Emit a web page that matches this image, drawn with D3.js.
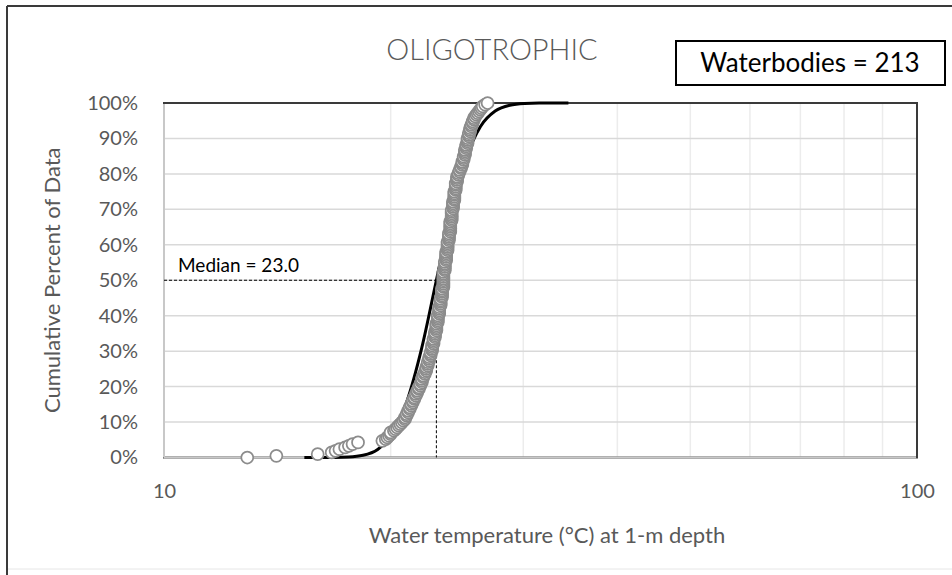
<!DOCTYPE html>
<html>
<head>
<meta charset="utf-8">
<script src="https://cdn.jsdelivr.net/npm/d3@7"></script>
<style>
  html, body { margin: 0; padding: 0; background: #fff; }
  svg { display: block; }
</style>
</head>
<body>
<svg id="chart" width="952" height="575"></svg>
<script>
// ---- chart data ----
const chartTitle = "OLIGOTROPHIC";
const countLabel = "Waterbodies = 213";
const medianValue = 23.0;
const medianLabel = "Median = 23.0";
const xAxisTitle = "Water temperature (°C) at 1-m depth";
const yAxisTitle = "Cumulative Percent of Data";
const xTickValues = [10, 100];
const xGridValues = [20, 30, 40, 50, 60, 70, 80, 90];
const yTickValues = [0, 0.1, 0.2, 0.3, 0.4, 0.5, 0.6, 0.7, 0.8, 0.9, 1.0];

// sorted surface temperatures of the 213 waterbodies (°C)
const observedTemps = [
  12.9, 14.1, 16.0, 16.7, 16.9, 17.1, 17.4, 17.6, 17.8, 18.1,
  19.5, 19.7, 19.8, 19.9, 20.0, 20.0, 20.2, 20.3, 20.4, 20.5, 20.6, 20.7, 20.8,
  20.9, 20.9, 21.0, 21.0, 21.1,
  21.1, 21.2, 21.2, 21.3, 21.3, 21.4,
  21.4, 21.5, 21.5, 21.6, 21.6, 21.7, 21.7, 21.8, 21.8,
  21.9, 21.9, 22.0, 22.0, 22.0, 22.1, 22.1, 22.2, 22.2, 22.3, 22.3,
  22.3, 22.4, 22.4, 22.4, 22.5, 22.5, 22.5, 22.6, 22.6, 22.6, 22.7,
  22.7, 22.7, 22.7, 22.8, 22.8, 22.8, 22.8, 22.9, 22.9, 22.9, 22.9, 23.0, 23.0, 23.0,
  23.0, 23.0, 23.1, 23.1, 23.1, 23.1, 23.1, 23.2, 23.2, 23.2, 23.2, 23.2, 23.3, 23.3, 23.3, 23.3, 23.3, 23.4, 23.4,
  23.4, 23.4, 23.4, 23.4, 23.5, 23.5, 23.5, 23.5, 23.5, 23.5, 23.5, 23.5, 23.5,
  23.5, 23.6, 23.6, 23.6, 23.6, 23.6, 23.6, 23.7, 23.7,
  23.7, 23.7, 23.7, 23.7, 23.8, 23.8, 23.8, 23.8, 23.8, 23.8,
  23.9, 23.9, 23.9, 23.9, 23.9, 24.0, 24.0, 24.0, 24.0, 24.0, 24.0, 24.0, 24.1, 24.1, 24.1, 24.1, 24.1, 24.1, 24.1,
  24.2, 24.2, 24.2, 24.2, 24.2, 24.3, 24.3, 24.3, 24.3, 24.3, 24.3, 24.4, 24.4,
  24.4, 24.4, 24.4, 24.5, 24.5, 24.5, 24.5, 24.6,
  24.6, 24.7, 24.7, 24.8, 24.8, 24.9, 24.9,
  24.9, 25.0, 25.0, 25.0, 25.1, 25.1, 25.1, 25.1,
  25.2, 25.2, 25.2, 25.3, 25.3, 25.3, 25.3,
  25.4, 25.4, 25.4, 25.5, 25.5, 25.5,
  25.6, 25.6, 25.7, 25.7, 25.8, 25.8,
  25.9, 26.0, 26.1, 26.2, 26.3,
  26.4, 26.5, 26.7, 26.9
];

// fitted lognormal cumulative curve (temperature °C, cumulative fraction)
const fitTemps    = [15.36, 16.80, 17.57, 18.38, 19.22, 20.10, 21.02, 21.99, 23.00,
                     24.06, 25.16, 26.31, 27.53, 28.79, 30.11, 31.49, 34.44];
const fitPercents = [0.0000, 0.0002, 0.0013, 0.0062, 0.0228, 0.0668, 0.1587, 0.3085, 0.5000,
                     0.6915, 0.8413, 0.9332, 0.9772, 0.9938, 0.9987, 0.9998, 1.0000];

// ---- layout ----
const svg = d3.select("#chart");
const plot = { left: 164, right: 917, top: 103, bottom: 457.5 };
const textGray = "#595959";
const fontFamily = "Lato, 'Open Sans', sans-serif";

const x = d3.scaleLog().domain([10, 100]).range([plot.left, plot.right]);
const y = d3.scaleLinear().domain([0, 1]).range([plot.bottom, plot.top]);

// outer chart frame
svg.append("line").attr("x1", 7).attr("x2", 7).attr("y1", 6).attr("y2", 575)
  .attr("stroke", "#3a3a3a").attr("stroke-width", 2);
svg.append("line").attr("x1", 7).attr("x2", 952).attr("y1", 6).attr("y2", 6)
  .attr("stroke", "#3a3a3a").attr("stroke-width", 2);
svg.append("line").attr("x1", 8).attr("x2", 952).attr("y1", 569).attr("y2", 569)
  .attr("stroke", "#e6e6e6").attr("stroke-width", 1);

// vertical minor gridlines (log decade)
svg.append("g").selectAll("line").data(xGridValues).join("line")
  .attr("x1", d => x(d)).attr("x2", d => x(d))
  .attr("y1", plot.top).attr("y2", plot.bottom)
  .attr("stroke", "#ececec").attr("stroke-width", 1.5);

// horizontal gridlines
svg.append("g").selectAll("line").data(yTickValues).join("line")
  .attr("x1", plot.left).attr("x2", plot.right)
  .attr("y1", d => y(d)).attr("y2", d => y(d))
  .attr("stroke", "#d9d9d9").attr("stroke-width", 1.5);

// plot-area border (dark), axis lines drawn over it in gray
svg.append("rect")
  .attr("x", plot.left).attr("y", plot.top)
  .attr("width", plot.right - plot.left).attr("height", plot.bottom - plot.top)
  .attr("fill", "none").attr("stroke", "#3a3a3a").attr("stroke-width", 2);
svg.append("line").attr("x1", plot.left).attr("x2", plot.left)
  .attr("y1", plot.top + 1).attr("y2", plot.bottom)
  .attr("stroke", "#c8c8c8").attr("stroke-width", 2);
svg.append("line").attr("x1", plot.left).attr("x2", plot.right - 1)
  .attr("y1", plot.bottom).attr("y2", plot.bottom)
  .attr("stroke", "#c8c8c8").attr("stroke-width", 2);

// y axis labels
const yAxis = d3.axisLeft(y).tickValues(yTickValues).tickFormat(d3.format(".0%"))
  .tickSize(0).tickPadding(26);
const gy = svg.append("g").attr("transform", `translate(${plot.left},0)`).call(yAxis);
gy.select(".domain").remove();
gy.selectAll("text").attr("fill", textGray).style("font-family", fontFamily).style("font-size", "20px");

// x axis labels
const xAxis = d3.axisBottom(x).tickValues(xTickValues).tickFormat(d3.format("d"))
  .tickSize(0).tickPadding(26);
const gx = svg.append("g").attr("transform", `translate(0,${plot.bottom})`).call(xAxis);
gx.select(".domain").remove();
gx.selectAll("text").attr("fill", textGray).style("font-family", fontFamily).style("font-size", "20px");

// median reference lines
const medianX = x(medianValue);
svg.append("line").attr("x1", plot.left).attr("x2", medianX)
  .attr("y1", y(0.5)).attr("y2", y(0.5))
  .attr("stroke", "#000").attr("stroke-width", 1).attr("stroke-dasharray", "3,2");
svg.append("line").attr("x1", medianX).attr("x2", medianX)
  .attr("y1", y(0.5)).attr("y2", y(0))
  .attr("stroke", "#000").attr("stroke-width", 1).attr("stroke-dasharray", "3,2");
svg.append("text").attr("x", 178).attr("y", y(0.5) - 8)
  .attr("fill", "#000").style("font-family", fontFamily).style("font-size", "19px")
  .text(medianLabel);

// fitted curve
const fitData = fitTemps.map((t, i) => ({ t, p: fitPercents[i] }));
svg.append("path").datum(fitData)
  .attr("fill", "none").attr("stroke", "#000").attr("stroke-width", 3)
  .attr("d", d3.line().x(d => x(d.t)).y(d => y(d.p)).curve(d3.curveMonotoneX));

// observed cumulative distribution
const n = observedTemps.length;
svg.append("g").selectAll("circle").data(observedTemps).join("circle")
  .attr("cx", d => x(d))
  .attr("cy", (d, i) => y(i / (n - 1)))
  .attr("r", 6)
  .attr("fill", "#fff").attr("stroke", "#8c8c8c").attr("stroke-width", 1.75);

// title
svg.append("text").attr("x", 492).attr("y", 60).attr("text-anchor", "middle")
  .attr("fill", textGray).style("font-family", fontFamily).style("font-size", "29px")
  .style("font-weight", 300).text(chartTitle);

// count box
svg.append("rect").attr("x", 676).attr("y", 41).attr("width", 269).attr("height", 44)
  .attr("fill", "#fff").attr("stroke", "#000").attr("stroke-width", 2);
svg.append("text").attr("x", 810).attr("y", 72).attr("text-anchor", "middle")
  .attr("fill", "#000").style("font-family", fontFamily).style("font-size", "26px")
  .text(countLabel);

// axis titles
svg.append("text").attr("x", 547).attr("y", 543)
  .attr("text-anchor", "middle").attr("fill", textGray)
  .style("font-family", fontFamily).style("font-size", "22px").text(xAxisTitle);
svg.append("text")
  .attr("transform", `translate(60,${(plot.top + plot.bottom) / 2}) rotate(-90)`)
  .attr("text-anchor", "middle").attr("fill", textGray)
  .style("font-family", fontFamily).style("font-size", "22px").text(yAxisTitle);
</script>
</body>
</html>
